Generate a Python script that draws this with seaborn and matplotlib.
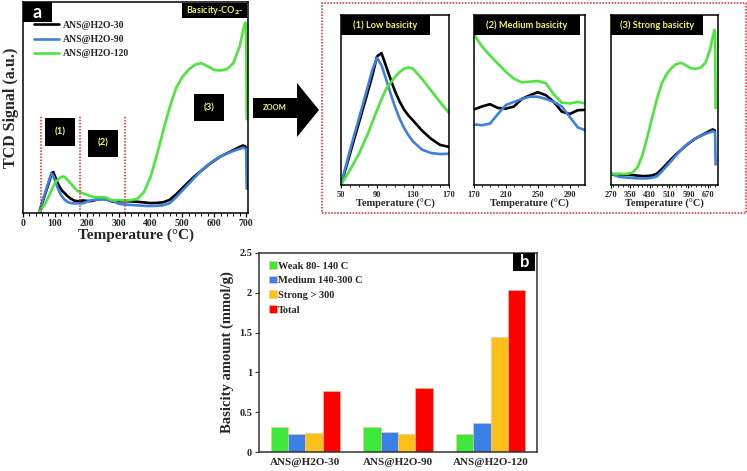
import numpy as np
import pandas as pd
import seaborn as sns
import matplotlib.pyplot as plt
from matplotlib.patches import Polygon, Rectangle
from matplotlib.ticker import MultipleLocator

# TPD-CO2 curves (signal in arbitrary units)
temps = [50, 55, 60, 65, 70, 75, 80, 85, 90, 95, 100, 105, 110, 115, 120, 125, 130,
         140, 150, 160, 170, 180, 190, 200, 210, 220, 230, 240, 250, 260, 270, 280, 290, 300,
         320, 340, 360, 380, 400, 420, 440, 460, 480, 500, 520, 540, 560, 580, 600, 620, 640, 660, 680,
         690, 697, 700]
signal_30 = [0, 2.3, 4.6, 6.9, 9.2, 11.5, 13.8, 16.2, 18.9, 19.4, 17.5, 15.6, 13.8, 12.3, 11.1, 10.2, 9.5,
             8.0, 6.8, 5.9, 5.6, 5.8, 5.95, 5.7, 5.65, 5.8, 6.3, 6.55, 6.75, 6.55, 6.1, 5.45, 5.3, 5.55,
             5.6, 5.5, 5.3, 5.0, 4.7, 4.8, 5.1, 6.2, 8.8, 11.8, 14.8, 17.6, 20.1, 22.6, 24.8, 26.8, 28.3, 29.8, 31.3,
             32.0, 31.6, 31.0]
signal_90 = [0, 2.6, 5.1, 7.5, 9.8, 12.2, 14.6, 17.0, 18.7, 17.6, 15.6, 13.5, 11.5, 9.8, 8.4, 7.3, 6.4,
             5.2, 4.7, 4.55, 4.6, 4.55, 4.65, 5.3, 5.9, 6.1, 6.3, 6.45, 6.45, 6.3, 6.1, 5.8, 5.1, 4.4,
             4.0, 3.8, 3.6, 3.4, 3.3, 3.4, 3.7, 4.6, 7.4, 10.6, 13.8, 17.0, 20.2, 22.8, 25.0, 26.8, 28.2, 29.4, 30.4,
             31.0, 30.6, 30.2]
signal_120 = [0, 1.1, 2.2, 3.4, 4.6, 6.1, 7.6, 9.3, 11.0, 12.6, 14.1, 15.0, 15.9, 16.6, 17.1, 17.3, 17.1,
              15.6, 13.9, 12.2, 10.6, 9.8, 9.2, 8.65, 8.1, 7.65, 7.4, 7.45, 7.5, 7.35, 6.6, 6.05, 6.0, 6.1,
              5.9, 6.1, 6.9, 10.0, 17.0, 27.5, 39.0, 50.0, 59.0, 64.5, 68.0, 70.3, 71.0, 69.5, 67.8, 67.5, 68.2, 71.0, 79.0,
              86.0, 90.3, 89.5]
# final drop of the signal at the end of the run
end_temp = 702
end_90 = 11.5
end_120 = 44.5

samples = ['ANS@H2O-30', 'ANS@H2O-90', 'ANS@H2O-120']
line_colors = ['#000000', '#3f7fde', '#4ce63c']
region_lines = [55, 178, 320]
region_top = 46
region_labels = ['(1)', '(2)', '(3)']
region_pos_t = [116, 251, 584]
region_pos_y = [38.5, 33, 50]

# basicity amounts (mmol/g)
site_types = ['Weak 80- 140 C', 'Medium 140-300 C', 'Strong > 300', 'Total']
weak = [0.31, 0.32, 0.22]
medium = [0.22, 0.25, 0.37]
strong = [0.24, 0.22, 1.44]
total = [0.77, 0.80, 2.04]
bar_colors = ['#3ee83a', '#3a80e6', '#fbc01a', '#fe0000']

zoom_titles = ['(1) Low basicity', '(2) Medium basicity', '(3) Strong basicity']
zoom_xlims = [(50, 170), (170, 309), (270, 712)]
zoom_ylims = [(0, 25), (0.56, 11.9), (-0.5, 99)]
zoom_ticks = [[50, 90, 130, 170], [170, 210, 250, 290], [270, 350, 430, 510, 590, 670]]
zoom_minor = [10, 10, 20]

YELLOW = '#f4f45c'
SERIF = ['Liberation Serif', 'DejaVu Serif']
SANS = ['Lato', 'DejaVu Sans']

sns.set_style('ticks')
plt.rcParams['font.family'] = SERIF
plt.rcParams['font.weight'] = 'bold'
plt.rcParams['axes.labelweight'] = 'bold'
plt.rcParams['mathtext.fontset'] = 'dejavusans'

curves = []
for name, sig in zip(samples, [signal_30, signal_90, signal_120]):
    curves.append(pd.DataFrame({'temperature': temps, 'signal': sig, 'sample': name}))
curves.append(pd.DataFrame({'temperature': [end_temp, end_temp], 'signal': [end_90, end_120],
                            'sample': samples[1:]}))
curves_df = pd.concat(curves, ignore_index=True)

bars_df = pd.DataFrame({
    'sample': samples * 4,
    'type': [t for t in site_types for _ in samples],
    'amount': weak + medium + strong + total,
})

W, H = 747, 471
fig = plt.figure(figsize=(W / 100, H / 100), dpi=100)


def px_axes(x0, y0, x1, y1):
    return fig.add_axes([x0 / W, 1 - y1 / H, (x1 - x0) / W, (y1 - y0) / H])


def label_box(ax, x0, y0, x1, y1, text, color, size, family=SANS):
    ax.add_patch(Rectangle((x0, y0), x1 - x0, y1 - y0, transform=ax.transAxes,
                           facecolor='black', edgecolor='none', clip_on=False, zorder=5))
    ax.text((x0 + x1) / 2, (y0 + y1) / 2, text, transform=ax.transAxes, ha='center', va='center',
            color=color, fontsize=size, fontweight='bold', family=family, zorder=6)


def draw_curves(ax, legend):
    sns.lineplot(data=curves_df, x='temperature', y='signal', hue='sample', hue_order=samples,
                 palette=line_colors, estimator=None, linewidth=1.9, legend=legend, ax=ax)
    for s in ax.spines.values():
        s.set_color('black')
        s.set_linewidth(1.1)


# ---- panel a ----
ax_a = px_axes(23, 2, 248, 213)
draw_curves(ax_a, legend=True)
ax_a.vlines(region_lines, 0, region_top, colors='#e8202a', linestyles=(0, (1, 1)), linewidth=1.1)
for lab, t, y in zip(region_labels, region_pos_t, region_pos_y):
    ax_a.text(t, y, lab, ha='center', va='center', color=YELLOW, fontsize=7, fontweight='bold',
              family=SANS, bbox=dict(boxstyle='square,pad=0.95', fc='black', ec='none'))
ax_a.set_xlim(0, 706)
ax_a.set_ylim(0, 100)
ax_a.set_yticks([])
ax_a.xaxis.set_major_locator(MultipleLocator(100))
ax_a.xaxis.set_minor_locator(MultipleLocator(20))
ax_a.tick_params(axis='x', which='major', length=3, width=0.9, pad=1.5, labelsize=7, color='black')
ax_a.tick_params(axis='x', which='minor', length=1.8, width=0.7, color='black')
ax_a.set_xlabel('Temperature (°C)', fontsize=11, labelpad=0)
ax_a.set_ylabel('TCD Signal (a.u.)', fontsize=11.5, labelpad=3)
ax_a.legend(loc='upper left', bbox_to_anchor=(0.03, 0.93), frameon=False, fontsize=7,
            handlelength=2.6, handletextpad=0.4, labelspacing=0.55, borderaxespad=0)
label_box(ax_a, 0, 0.905, 0.129, 1.0, 'a', 'white', 13)
label_box(ax_a, 0.707, 0.924, 0.996, 0.995, 'Basicity-CO$_2$-', YELLOW, 6.5)

# ---- zoomed panels ----
zoom_px = [(341, 449), (474, 585), (611, 718)]
box_right = [0.82, 0.955, 0.86]
for (x0, x1), title, xl, yl, ticks, minor, br in zip(zoom_px, zoom_titles, zoom_xlims, zoom_ylims,
                                                     zoom_ticks, zoom_minor, box_right):
    ax = px_axes(x0, 15, x1, 185)
    draw_curves(ax, legend=False)
    ax.set_xlim(*xl)
    ax.set_ylim(*yl)
    ax.set_yticks([])
    ax.set_xticks(ticks)
    ax.xaxis.set_minor_locator(MultipleLocator(minor))
    ax.tick_params(axis='x', which='major', length=2.5, width=0.8, pad=1.5, labelsize=6, color='black')
    ax.tick_params(axis='x', which='minor', length=1.5, width=0.6, color='black')
    ax.set_xlabel('Temperature (°C)', fontsize=7.5, labelpad=0)
    ax.set_ylabel('')
    label_box(ax, 0, 0.882, br, 1.0, title, YELLOW, 6.7)

# dotted frame around the zoom panels
fig.patches.append(Rectangle((322 / W, 1 - 213 / H), (746 - 322) / W, (213 - 3) / H,
                             transform=fig.transFigure, fill=False, edgecolor='#e8202a',
                             linestyle=(0, (1, 1)), linewidth=1.1))
# ZOOM arrow
arrow_px = [(253, 98), (297, 98), (297, 83), (319, 110), (297, 137), (297, 118), (253, 118)]
fig.patches.append(Polygon([(x / W, 1 - y / H) for x, y in arrow_px], closed=True,
                           transform=fig.transFigure, facecolor='black', edgecolor='none'))
fig.text(275 / W, 1 - 108 / H, 'ZOOM', ha='center', va='center', color=YELLOW, fontsize=5.5,
         fontweight='bold', family=SANS)

# ---- panel b ----
ax_b = px_axes(259, 253, 537, 452)
sns.barplot(data=bars_df, x='sample', y='amount', hue='type', hue_order=site_types, order=samples,
            palette=bar_colors, width=0.75, saturation=1, edgecolor='#f6c98a', linewidth=0.4, ax=ax_b)
ax_b.set_xlim(-0.5, 2.5)
ax_b.set_ylim(0, 2.5)
ax_b.set_yticks([0, 0.5, 1, 1.5, 2, 2.5])
ax_b.set_yticklabels(['0', '0.5', '1', '1.5', '2', '2.5'])
ax_b.tick_params(axis='y', length=3, width=0.8, labelsize=7.5, pad=2, color='#333333')
ax_b.tick_params(axis='x', length=0, labelsize=8, pad=4)
ax_b.set_xlabel('')
ax_b.set_ylabel('Basicity amount (mmol/g)', fontsize=10.5, labelpad=4)
for s in ax_b.spines.values():
    s.set_color('#333333')
    s.set_linewidth(1.1)
ax_b.legend(loc='upper left', bbox_to_anchor=(0.02, 0.98), frameon=False, fontsize=7.5,
            handlelength=0.75, handleheight=0.75, handletextpad=0.15, labelspacing=0.5, borderaxespad=0)
label_box(ax_b, 0.915, 0.91, 0.993, 1.0, 'b', 'white', 12)

fig.savefig('out.png', dpi=100)
